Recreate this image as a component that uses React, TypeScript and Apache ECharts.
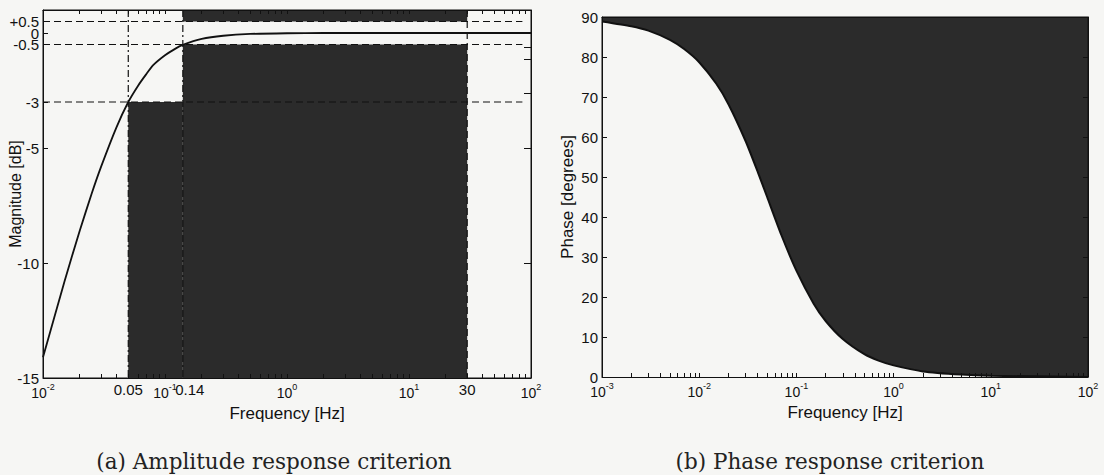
import React, { useEffect, useRef } from "react";
import * as echarts from "echarts";

// ---------- data ----------
// (a) amplitude response
const magFreq = [0.01, 0.015, 0.02, 0.025, 0.03, 0.04, 0.05, 0.06, 0.07, 0.08, 0.1, 0.12, 0.14, 0.2, 0.3, 0.5, 1, 2, 10, 100];
const magDb = [-14.1, -10.8, -8.6, -7.0, -5.8, -4.1, -3.0, -2.3, -1.8, -1.4, -0.97, -0.7, -0.52, -0.26, -0.12, -0.04, -0.01, 0, 0, 0];
// (b) phase response
const phaseFreq = [0.001, 0.002, 0.003, 0.005, 0.007, 0.01, 0.015, 0.02, 0.03, 0.04, 0.05, 0.07, 0.1, 0.15, 0.2, 0.3, 0.5, 0.7, 1, 2, 5, 10, 100];
const phaseDeg = [88.9, 87.7, 86.6, 84.3, 82.0, 78.7, 73.3, 68.2, 59.0, 51.3, 45.0, 35.5, 26.6, 18.4, 14.0, 9.5, 5.7, 4.1, 2.9, 1.4, 0.6, 0.3, 0.03];

// criterion limits
const cutFreq = 0.05;
const passFreq = 0.14;
const upperFreq = 30;
const dashEndFreq = 85;
const rippleTop = 0.5;
const rippleBottom = -0.5;
const cutLevel = -3;

// axes
const magMin = -15;
const magMax = 1;
const magFreqMin = 0.01;
const magFreqMax = 100;
const magTickValues = [0.5, 0, -0.5, -3, -5, -10, -15];
const magTickLabels = ["+0.5", "0", "-0.5", "-3", "-5", "-10", "-15"];
const magLabelsMain = [0.5, -0.5, -3, -5, -10, -15];
const magLabelsExtra = [0];
const magRightTicks = [-0.6, -1.15, -2.6, -5, -10];
const magFreqLabels = [0.01, 0.05, 0.1, 0.14, 1, 10, 30, 100];
const phaseMin = 0;
const phaseMax = 90;
const phaseTicks = [0, 10, 20, 30, 40, 50, 60, 70, 80, 90];
const phaseFreqMin = 0.001;
const phaseFreqMax = 100;
const phaseFreqLabels = [0.001, 0.01, 0.1, 1, 10, 100];

const captionA = "(a) Amplitude response criterion";
const captionB = "(b) Phase response criterion";

// ---------- styling ----------
const BG = "#f6f6f4";
const DARK = "#2b2b2b";
const INK = "#111111";
const SANS = "'Liberation Sans', Arial, Helvetica, sans-serif";
const SERIF = "'DejaVu Serif', 'Liberation Serif', serif";

function logTicks(minExp: number, maxExp: number): number[] {
  const out: number[] = [];
  for (let e = minExp; e < maxExp; e++) {
    for (let k = 1; k <= 9; k++) out.push(parseFloat((k * Math.pow(10, e)).toPrecision(6)));
  }
  out.push(Math.pow(10, maxExp));
  return out;
}

function fmtLog(v: number): string {
  const e = Math.round(Math.log10(v));
  if (Math.abs(Math.pow(10, e) - v) / v < 1e-6) return `{b|10}{s|${e}}`;
  if (v === passFreq) return `{q|${v}}`;
  return `{p|${v}}`;
}

const fmtMag = (v: number) => {
  const i = magTickValues.indexOf(v);
  return i >= 0 ? magTickLabels[i] : String(v);
};

const richLabels = {
  b: { fontSize: 14, fontFamily: SANS, color: INK, lineHeight: 22, verticalAlign: "middle" },
  s: { fontSize: 9, fontFamily: SANS, color: INK, verticalAlign: "top" },
  p: { fontSize: 15, fontFamily: SANS, color: INK, lineHeight: 18, verticalAlign: "top" },
  q: { fontSize: 15, fontFamily: SANS, color: INK, lineHeight: 18, verticalAlign: "top", padding: [0, 0, 0, 14] },
};

const line = (data: number[][], type: any, z = 3) => ({
  type: "line",
  xAxisIndex: 0,
  yAxisIndex: 0,
  data,
  symbol: "none",
  silent: true,
  z,
  lineStyle: { color: INK, width: 1.2, type },
});

export default function App() {
  const ref = useRef<HTMLDivElement>(null);

  useEffect(() => {
    if (!ref.current) return;
    const chart = echarts.init(ref.current, undefined, { renderer: "svg" });

    const magTicksX = logTicks(-2, 2);
    const phaseTicksX = logTicks(-3, 2);
    const dash = [7, 4];
    const dashDot = [7, 3, 2, 3];

    const axisLine = { show: true, onZero: false, lineStyle: { color: INK, width: 1 } };
    const nameStyle = (size: number) => ({ fontFamily: SANS, fontSize: size, color: INK });
    const yLabel = (values: number[]) => ({
      customValues: values, formatter: fmtMag, lineHeight: 11,
      margin: 4, hideOverlap: false, color: INK, fontFamily: SANS, fontSize: 15,
    });

    const option: any = {
      animation: false,
      backgroundColor: BG,
      grid: [
        {
          left: 43, top: 10, width: 488, height: 368,
          show: true, backgroundColor: BG, borderColor: INK, borderWidth: 1,
          containLabel: false, outerBoundsMode: "none",
        },
        {
          left: 602, top: 17, width: 486, height: 360,
          show: true, backgroundColor: DARK, borderColor: INK, borderWidth: 1,
          containLabel: false, outerBoundsMode: "none",
        },
      ],
      xAxis: [
        {
          gridIndex: 0, type: "log", logBase: 10, min: magFreqMin, max: magFreqMax, position: "bottom", z: 10,
          axisLine,
          axisTick: { show: true, inside: true, length: 4, customValues: magTicksX, lineStyle: { color: INK } },
          minorTick: { show: false },
          splitLine: { show: false },
          axisLabel: {
            customValues: magFreqLabels, formatter: fmtLog, rich: richLabels, margin: 4, hideOverlap: false,
            showMinLabel: true, showMaxLabel: true,
            color: INK, fontFamily: SANS, fontSize: 15,
          },
          name: "Frequency [Hz]", nameLocation: "middle", nameGap: 27, nameMoveOverlap: false,
          nameTextStyle: nameStyle(17),
        },
        {
          gridIndex: 0, type: "log", logBase: 10, min: magFreqMin, max: magFreqMax, position: "top", z: 10,
          axisLine,
          axisTick: { show: true, inside: true, length: 4, customValues: magTicksX, lineStyle: { color: INK } },
          axisLabel: { show: false },
          splitLine: { show: false },
        },
        {
          gridIndex: 1, type: "log", logBase: 10, min: phaseFreqMin, max: phaseFreqMax, position: "bottom", z: 10,
          axisLine,
          axisTick: { show: true, inside: true, length: 4, customValues: phaseTicksX, lineStyle: { color: INK } },
          splitLine: { show: false },
          axisLabel: {
            customValues: phaseFreqLabels, formatter: fmtLog, rich: richLabels, margin: 4, hideOverlap: false,
            showMinLabel: true, showMaxLabel: true,
            color: INK, fontFamily: SANS, fontSize: 15,
          },
          name: "Frequency [Hz]", nameLocation: "middle", nameGap: 27, nameMoveOverlap: false,
          nameTextStyle: nameStyle(17),
        },
        {
          gridIndex: 1, type: "log", logBase: 10, min: phaseFreqMin, max: phaseFreqMax, position: "top", z: 10,
          axisLine,
          axisTick: { show: false },
          axisLabel: { show: false },
          splitLine: { show: false },
        },
      ],
      yAxis: [
        {
          gridIndex: 0, type: "value", min: magMin, max: magMax, position: "left", z: 10,
          axisLine,
          axisTick: { show: true, inside: true, length: 5, customValues: magTickValues, lineStyle: { color: INK } },
          splitLine: { show: false },
          axisLabel: { ...yLabel(magLabelsMain), showMinLabel: true, showMaxLabel: true },
          name: "Magnitude [dB]", nameLocation: "middle", nameGap: 20, nameMoveOverlap: false,
          nameTextStyle: nameStyle(16),
        },
        {
          gridIndex: 0, type: "value", min: magMin, max: magMax, position: "right", z: 10,
          axisLine,
          axisTick: { show: true, inside: true, length: 7, customValues: magRightTicks, lineStyle: { color: INK } },
          splitLine: { show: false },
          axisLabel: { show: false },
        },
        {
          gridIndex: 1, type: "value", min: phaseMin, max: phaseMax, position: "left", z: 10,
          axisLine,
          axisTick: { show: true, inside: true, length: 5, customValues: phaseTicks, lineStyle: { color: INK } },
          splitLine: { show: false },
          axisLabel: {
            customValues: phaseTicks, margin: 4, hideOverlap: false, showMinLabel: true, showMaxLabel: true,
            color: INK, fontFamily: SANS, fontSize: 15,
          },
          name: "Phase [degrees]", nameLocation: "middle", nameGap: 26, nameMoveOverlap: false,
          nameTextStyle: nameStyle(17),
        },
        {
          gridIndex: 1, type: "value", min: phaseMin, max: phaseMax, position: "right", z: 10,
          axisLine,
          axisTick: { show: true, inside: true, length: 5, customValues: phaseTicks, lineStyle: { color: INK } },
          splitLine: { show: false },
          axisLabel: { show: false },
        },
        {
          // holds the "0" label, which sits too close to its neighbours for one axis
          gridIndex: 0, type: "value", min: magMin, max: magMax, position: "left", z: 10,
          axisLine: { show: false, onZero: false },
          axisTick: { show: false },
          splitLine: { show: false },
          axisLabel: { ...yLabel(magLabelsExtra), showMinLabel: true, showMaxLabel: true },
        },
      ],
      series: [
        // shaded forbidden regions of the amplitude criterion
        {
          type: "line", xAxisIndex: 0, yAxisIndex: 0, symbol: "none", silent: true, z: 1,
          data: [[cutFreq, cutLevel]],
          lineStyle: { width: 0 },
          markArea: {
            silent: true,
            itemStyle: { color: DARK, opacity: 1 },
            data: [
              [{ coord: [cutFreq, cutLevel] }, { coord: [passFreq, magMin] }],
              [{ coord: [passFreq, rippleBottom] }, { coord: [upperFreq, magMin] }],
              [{ coord: [passFreq, magMax] }, { coord: [upperFreq, rippleTop] }],
            ],
          },
        },
        // guide lines
        line([[magFreqMin, rippleTop], [dashEndFreq, rippleTop]], dash),
        line([[magFreqMin, rippleBottom], [dashEndFreq, rippleBottom]], dash),
        line([[magFreqMin, cutLevel], [dashEndFreq, cutLevel]], dash),
        line([[cutFreq, magMax], [cutFreq, magMin]], dashDot),
        line([[passFreq, magMax], [passFreq, magMin]], dashDot),
        line([[upperFreq, magMax], [upperFreq, magMin]], dash),
        // amplitude response
        {
          type: "line", xAxisIndex: 0, yAxisIndex: 0, symbol: "none", silent: true, z: 5,
          smooth: 0.2,
          data: magFreq.map((f, i) => [f, magDb[i]]),
          lineStyle: { color: INK, width: 1.8 },
        },
        // phase response: light area below the curve, dark above (grid background)
        {
          type: "line", xAxisIndex: 2, yAxisIndex: 2, symbol: "none", silent: true, z: 5,
          smooth: 0.2,
          data: phaseFreq.map((f, i) => [f, phaseDeg[i]]),
          lineStyle: { color: INK, width: 2 },
          areaStyle: { color: BG, opacity: 1, origin: "start" },
        },
      ],
      graphic: [
        {
          type: "text", x: 274, y: 461, silent: true,
          style: { text: captionA, fontFamily: SERIF, fontSize: 21.5, fill: "#222", align: "center", verticalAlign: "middle" },
        },
        {
          type: "text", x: 830, y: 461, silent: true,
          style: { text: captionB, fontFamily: SERIF, fontSize: 21.5, fill: "#222", align: "center", verticalAlign: "middle" },
        },
      ],
    };

    chart.setOption(option);
    return () => chart.dispose();
  }, []);

  return (
    <div
      ref={ref}
      style={{ position: "absolute", left: 0, top: 0, width: 1104, height: 475, background: BG }}
    />
  );
}
